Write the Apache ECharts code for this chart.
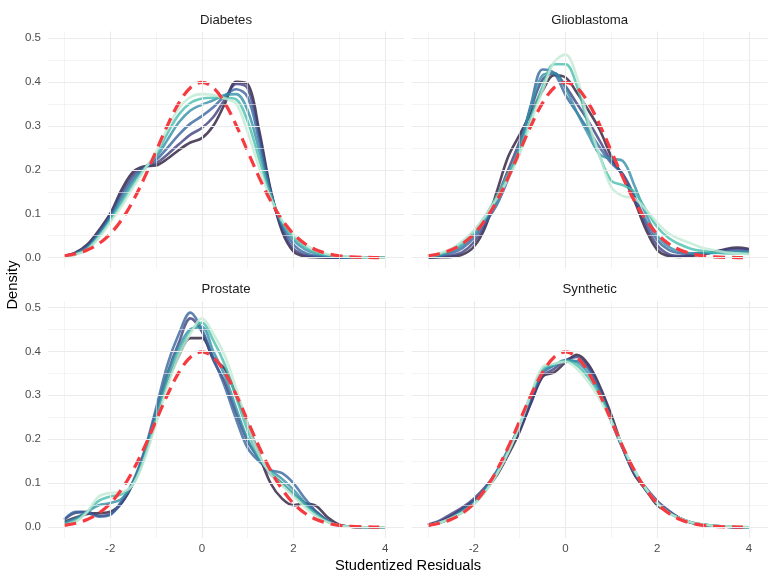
<!DOCTYPE html>
<html><head><meta charset="utf-8">
<script src="https://cdn.jsdelivr.net/npm/echarts@6/dist/echarts.min.js"></script>
<style>html,body{margin:0;padding:0;background:#fff}#c{width:775px;height:581px}</style>
</head><body><div id="c"></div>
<script>
// ---------- data ----------
const xGrid = [-3,-2.75,-2.5,-2.25,-2,-1.75,-1.5,-1.25,-1,-0.75,-0.5,-0.25,0,0.25,0.5,0.75,1,1.25,1.5,1.75,2,2.25,2.5,2.75,3,3.25,3.5,3.75,4];
const facetNames = ['Diabetes','Glioblastoma','Prostate','Synthetic'];
const xTickLabels = [-2,0,2,4];
const xMinorLines = [-3,-1,1,3];
const yTickLabels = [0,0.1,0.2,0.3,0.4,0.5];
const yMinorLines = [0.05,0.15,0.25,0.35,0.45];

// reference normal density (red dashed)
const normX = [-3,-2.75,-2.5,-2.25,-2,-1.75,-1.5,-1.25,-1,-0.75,-0.5,-0.25,0,0.25,0.5,0.75,1,1.25,1.5,1.75,2,2.25,2.5,2.75,3,3.25,3.5,3.75,3.87];
const normY = [0.0044,0.0091,0.0175,0.0317,0.054,0.0863,0.1295,0.1826,0.242,0.3011,0.3521,0.3867,0.3989,0.3867,0.3521,0.3011,0.242,0.1826,0.1295,0.0863,0.054,0.0317,0.0175,0.0091,0.0044,0.002,0.0009,0.0004,0.0002];

// density curves, dark -> light
const diabetes = [
  [0.004,0.012,0.03,0.062,0.1,0.155,0.195,0.208,0.21,0.225,0.245,0.262,0.272,0.30,0.35,0.40,0.395,0.29,0.155,0.06,0.014,0.003,0.001,0,0,0,0,0,0],
  [0.004,0.011,0.028,0.058,0.097,0.148,0.188,0.206,0.215,0.235,0.258,0.28,0.295,0.32,0.36,0.395,0.385,0.28,0.152,0.066,0.02,0.006,0.002,0.001,0,0,0,0,0],
  [0.003,0.01,0.025,0.055,0.093,0.14,0.18,0.205,0.222,0.25,0.28,0.305,0.322,0.342,0.368,0.383,0.365,0.265,0.148,0.072,0.03,0.011,0.004,0.002,0.001,0,0,0,0],
  [0.003,0.009,0.022,0.051,0.088,0.132,0.172,0.204,0.228,0.268,0.308,0.335,0.348,0.358,0.37,0.372,0.335,0.245,0.145,0.078,0.04,0.019,0.009,0.004,0.002,0.001,0,0,0],
  [0.002,0.008,0.02,0.048,0.084,0.124,0.166,0.202,0.234,0.283,0.326,0.352,0.362,0.364,0.364,0.36,0.31,0.225,0.14,0.082,0.047,0.025,0.012,0.006,0.003,0.001,0,0,0],
  [0.002,0.007,0.018,0.045,0.08,0.117,0.16,0.2,0.24,0.295,0.34,0.365,0.372,0.37,0.362,0.35,0.285,0.205,0.135,0.085,0.053,0.03,0.016,0.008,0.004,0.002,0.001,0,0]
];
const glioblastoma = [
  [0,0.001,0.002,0.007,0.025,0.07,0.15,0.23,0.28,0.33,0.38,0.415,0.41,0.375,0.335,0.29,0.23,0.185,0.13,0.065,0.018,0.004,0.002,0.004,0.008,0.013,0.02,0.023,0.02],
  [0.001,0.002,0.005,0.013,0.035,0.075,0.135,0.2,0.265,0.34,0.405,0.42,0.39,0.35,0.31,0.265,0.22,0.19,0.14,0.075,0.028,0.008,0.004,0.006,0.009,0.013,0.018,0.02,0.018],
  [0.001,0.004,0.01,0.022,0.045,0.08,0.12,0.18,0.25,0.35,0.428,0.42,0.37,0.33,0.29,0.25,0.215,0.19,0.14,0.085,0.04,0.018,0.01,0.009,0.01,0.012,0.014,0.015,0.014],
  [0.002,0.006,0.014,0.028,0.052,0.088,0.13,0.185,0.255,0.345,0.415,0.42,0.385,0.33,0.28,0.235,0.225,0.22,0.165,0.1,0.05,0.025,0.014,0.01,0.01,0.011,0.012,0.013,0.012],
  [0.002,0.008,0.018,0.035,0.06,0.095,0.14,0.19,0.245,0.32,0.39,0.44,0.44,0.39,0.3,0.23,0.175,0.165,0.15,0.11,0.07,0.045,0.03,0.02,0.015,0.012,0.01,0.01,0.01],
  [0.003,0.01,0.02,0.038,0.062,0.095,0.135,0.18,0.235,0.31,0.38,0.445,0.462,0.41,0.31,0.23,0.16,0.14,0.135,0.11,0.08,0.055,0.042,0.032,0.022,0.017,0.012,0.01,0.008]
];
const prostate = [
  [0.012,0.022,0.03,0.032,0.035,0.055,0.1,0.165,0.25,0.33,0.39,0.43,0.43,0.385,0.36,0.3,0.235,0.165,0.1,0.065,0.05,0.054,0.048,0.022,0.006,0.001,0,0,0],
  [0.018,0.033,0.035,0.026,0.03,0.055,0.1,0.17,0.26,0.35,0.42,0.475,0.445,0.38,0.33,0.26,0.195,0.155,0.12,0.1,0.075,0.055,0.035,0.015,0.005,0.001,0,0,0],
  [0.017,0.035,0.033,0.024,0.028,0.06,0.105,0.175,0.27,0.37,0.44,0.488,0.45,0.385,0.32,0.245,0.18,0.15,0.13,0.123,0.1,0.065,0.035,0.014,0.004,0.001,0,0,0],
  [0.01,0.02,0.035,0.05,0.055,0.065,0.1,0.165,0.255,0.345,0.41,0.45,0.455,0.4,0.345,0.27,0.2,0.155,0.13,0.11,0.085,0.055,0.03,0.013,0.004,0.001,0,0,0],
  [0.006,0.015,0.035,0.06,0.07,0.075,0.098,0.16,0.245,0.33,0.4,0.445,0.465,0.425,0.37,0.295,0.22,0.16,0.125,0.1,0.075,0.05,0.028,0.012,0.004,0.001,0,0,0],
  [0.004,0.012,0.035,0.07,0.078,0.08,0.097,0.155,0.235,0.32,0.39,0.44,0.475,0.44,0.39,0.315,0.235,0.165,0.12,0.095,0.07,0.045,0.025,0.011,0.004,0.001,0,0,0]
];
const synthetic = [
  [0.005,0.012,0.025,0.042,0.06,0.085,0.118,0.165,0.218,0.285,0.343,0.352,0.375,0.392,0.37,0.32,0.255,0.18,0.12,0.085,0.05,0.035,0.02,0.01,0.006,0.003,0.001,0,0],
  [0.006,0.015,0.03,0.045,0.065,0.092,0.125,0.17,0.222,0.283,0.343,0.36,0.38,0.387,0.365,0.315,0.245,0.18,0.125,0.09,0.06,0.038,0.02,0.01,0.005,0.002,0.001,0,0],
  [0.004,0.01,0.022,0.04,0.058,0.088,0.128,0.178,0.232,0.295,0.35,0.368,0.378,0.378,0.36,0.31,0.24,0.178,0.125,0.085,0.055,0.035,0.02,0.01,0.005,0.002,0.001,0,0],
  [0.004,0.01,0.021,0.036,0.055,0.084,0.124,0.174,0.232,0.3,0.355,0.368,0.38,0.375,0.35,0.305,0.243,0.18,0.128,0.087,0.055,0.034,0.02,0.011,0.006,0.003,0.001,0,0],
  [0.004,0.01,0.02,0.034,0.053,0.082,0.122,0.172,0.232,0.303,0.36,0.37,0.378,0.368,0.34,0.3,0.242,0.182,0.13,0.088,0.055,0.033,0.02,0.011,0.006,0.003,0.002,0.001,0],
  [0.004,0.01,0.02,0.033,0.052,0.08,0.12,0.17,0.232,0.305,0.365,0.372,0.376,0.36,0.33,0.29,0.24,0.185,0.13,0.088,0.055,0.033,0.02,0.011,0.006,0.003,0.002,0.001,0]
];
const curveColors = ['#2b1c3b','#3f3f7e','#37659e','#348fa7','#48bfad','#c2ead4'];

// ---------- chart ----------
const facetData = [diabetes, glioblastoma, prostate, synthetic];
const FONT = 'Liberation Sans, Arial, sans-serif';
const W = 356, H = 237;
const panels = [
  {left: 48, top: 31.5}, {left: 411.7, top: 31.5},
  {left: 48, top: 301}, {left: 411.7, top: 301}
];
const grid = [], xAxis = [], yAxis = [], series = [], graphic = [];

panels.forEach((p, i) => {
  grid.push({left: p.left, top: p.top, width: W, height: H, containLabel: false});
  xAxis.push({
    gridIndex: i, type: 'value', min: -3.356, max: 4.41,
    axisLine: {show: false}, axisTick: {show: false, customValues: xTickLabels},
    splitLine: {show: false},
    axisLabel: {show: i >= 2, customValues: xTickLabels, margin: 5, color: '#4d4d4d',
      fontSize: 11.5, fontFamily: FONT, formatter: v => String(v)}
  });
  yAxis.push({
    gridIndex: i, type: 'value', min: -0.0245, max: 0.5145,
    axisLine: {show: false}, axisTick: {show: false, customValues: yTickLabels},
    splitLine: {show: false},
    axisLabel: {show: i % 2 === 0, customValues: yTickLabels, margin: 7, color: '#4d4d4d',
      fontSize: 11.5, fontFamily: FONT, formatter: v => v.toFixed(1)}
  });
  // grid lines
  const ml = [];
  xTickLabels.forEach(v => ml.push({xAxis: v, lineStyle: {color: '#ebebeb', width: 1.1, type: 'solid'}}));
  xMinorLines.forEach(v => ml.push({xAxis: v, lineStyle: {color: '#ededed', width: 0.6, type: 'solid'}}));
  yTickLabels.forEach(v => ml.push({yAxis: v, lineStyle: {color: '#ebebeb', width: 1.1, type: 'solid'}}));
  yMinorLines.forEach(v => ml.push({yAxis: v, lineStyle: {color: '#ededed', width: 0.6, type: 'solid'}}));
  series.push({
    type: 'line', xAxisIndex: i, yAxisIndex: i, data: [], z: 1, silent: true,
    markLine: {silent: true, symbol: ['none', 'none'], label: {show: false}, animation: false, data: ml}
  });
  facetData[i].forEach((vals, k) => {
    series.push({
      type: 'line', xAxisIndex: i, yAxisIndex: i, z: 2, silent: true,
      data: xGrid.map((x, j) => [x, vals[j]]),
      showSymbol: false, smooth: 0.35,
      lineStyle: {color: curveColors[k], width: 2.6, opacity: 0.8}
    });
  });
  series.push({
    type: 'line', xAxisIndex: i, yAxisIndex: i, z: 3, silent: true,
    data: normX.map((x, j) => [x, normY[j]]),
    showSymbol: false, smooth: 0.35,
    lineStyle: {color: '#f73a40', width: 3.2, type: [12, 7]}
  });
  graphic.push({
    type: 'text', x: p.left + W / 2, y: p.top - 11.5,
    style: {text: facetNames[i], textAlign: 'center', textVerticalAlign: 'middle',
      font: '13.2px ' + FONT, fill: '#1a1a1a'}
  });
});

graphic.push({
  type: 'text', x: 408, y: 566,
  style: {text: 'Studentized Residuals', textAlign: 'center', textVerticalAlign: 'middle',
    font: '14.7px ' + FONT, fill: '#000'}
});
graphic.push({
  type: 'text', x: 13, y: 285, rotation: Math.PI / 2,
  style: {text: 'Density', textAlign: 'center', textVerticalAlign: 'middle',
    font: '14.7px ' + FONT, fill: '#000'}
});

const chart = echarts.init(document.getElementById('c'), null, {renderer: 'canvas'});
chart.setOption({animation: false, backgroundColor: '#fff', grid, xAxis, yAxis, series, graphic});
</script>
</body></html>
